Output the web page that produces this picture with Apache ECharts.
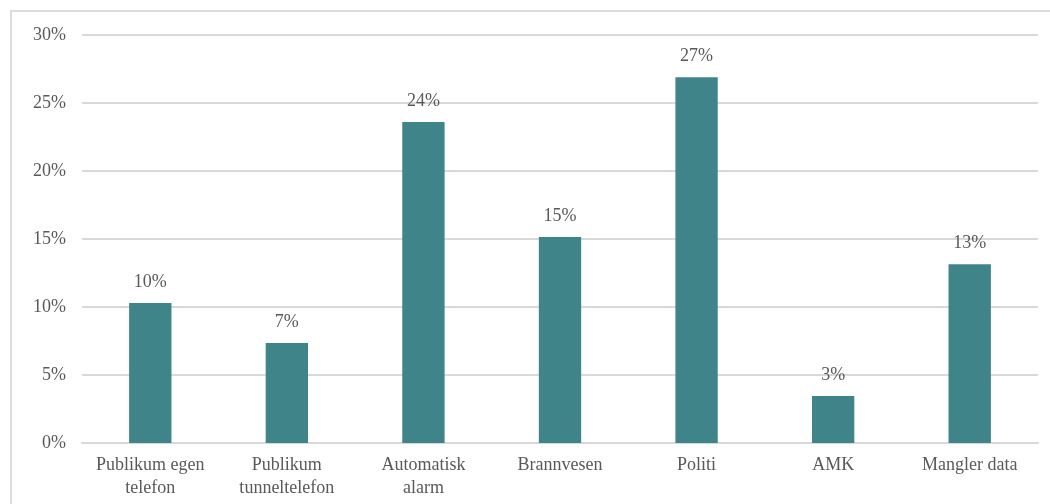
<!DOCTYPE html>
<html>
<head>
<meta charset="utf-8">
<script src="https://cdn.jsdelivr.net/npm/echarts@6/dist/echarts.min.js"></script>
<style>
  html, body { margin: 0; padding: 0; background: #ffffff; }
  #frame { position: absolute; left: 10px; top: 10px; width: 1060px; height: 520px; border: 2px solid #dcdcdc; box-sizing: border-box; }
  #chart { position: absolute; left: 0; top: 0; width: 1050px; height: 504px; }
</style>
</head>
<body>
<div id="frame"></div>
<div id="chart"></div>
<script>
// Who raised the alarm, share of incidents
const categories = ['Publikum egen\ntelefon', 'Publikum\ntunneltelefon', 'Automatisk\nalarm', 'Brannvesen', 'Politi', 'AMK', 'Mangler data'];
const shares = [10.3, 7.35, 23.6, 15.15, 26.9, 3.45, 13.15];
const yTicks = { min: 0, max: 30, step: 5 };

const fontFamily = '"Liberation Serif", "DejaVu Serif", serif';
const textColor = '#595959';
const fontSize = 18;

const chart = echarts.init(document.getElementById('chart'), null, { renderer: 'canvas' });
chart.setOption({
  animation: false,
  grid: { left: 82, right: 12, top: 35, bottom: 61, containLabel: false },
  xAxis: {
    type: 'category',
    data: categories,
    axisLine: { show: true, lineStyle: { color: '#d9d9d9', width: 2 } },
    axisTick: { show: false },
    axisLabel: { color: textColor, fontFamily, fontSize, lineHeight: 23, margin: 11, interval: 0 }
  },
  yAxis: {
    type: 'value',
    min: yTicks.min,
    max: yTicks.max,
    interval: yTicks.step,
    axisLine: { show: false },
    axisTick: { show: false },
    splitLine: { lineStyle: { color: '#d9d9d9', width: 2 } },
    axisLabel: { color: textColor, fontFamily, fontSize, margin: 16, formatter: v => v + '%' }
  },
  series: [{
    type: 'bar',
    data: shares,
    barWidth: '31%',
    itemStyle: { color: '#3f8489' },
    label: {
      show: true,
      position: 'top',
      distance: 12,
      color: textColor,
      fontFamily,
      fontSize,
      formatter: p => Math.round(p.value) + '%'
    }
  }]
});
</script>
</body>
</html>
